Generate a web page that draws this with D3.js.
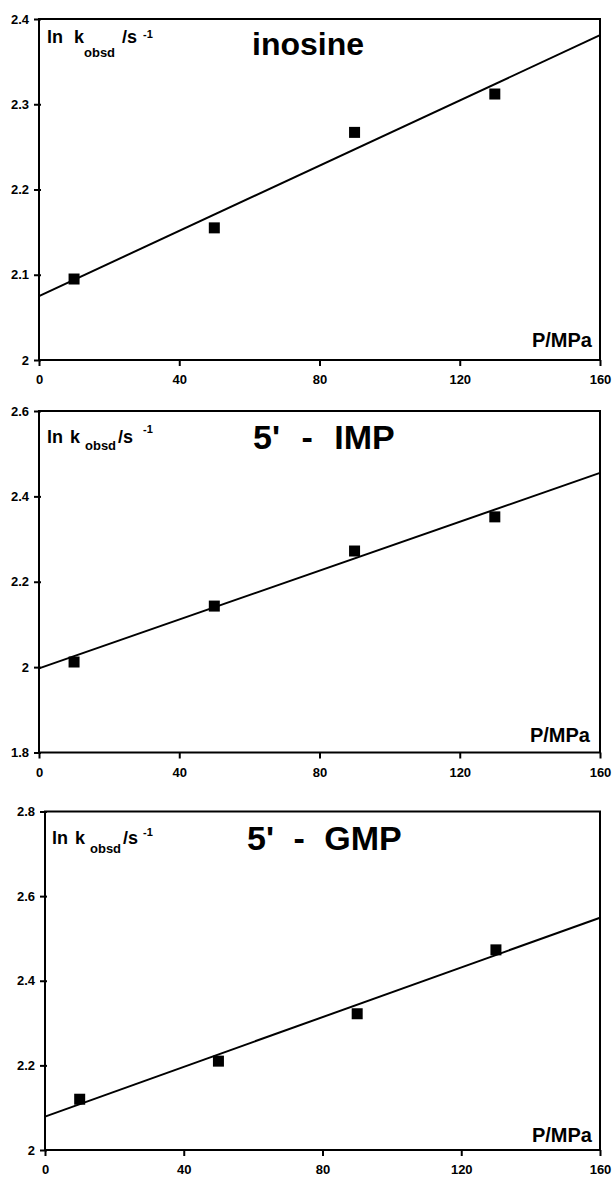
<!DOCTYPE html>
<html>
<head>
<meta charset="utf-8">
<script src="https://cdn.jsdelivr.net/npm/d3@7/dist/d3.min.js"></script>
<style>
  html, body { margin: 0; padding: 0; background: #fff; }
  svg { display: block; }
  text { font-family: "Liberation Sans", Arial, sans-serif; font-weight: bold; fill: #000; }
</style>
</head>
<body>
<svg id="chart" width="613" height="1177"></svg>
<script>
// ---- data ----
const pressure = [10, 50, 90, 130];
const fitX = [0, 160];
const xTicks = [0, 40, 80, 120, 160];

const titles = ["inosine", "5' - IMP", "5' - GMP"];

const inosineValues = [2.095, 2.155, 2.267, 2.312];
const impValues = [2.012, 2.143, 2.272, 2.352];
const gmpValues = [2.12, 2.21, 2.322, 2.473];

const inosineFit = [2.075, 2.381];
const impFit = [1.997, 2.455];
const gmpFit = [2.079, 2.549];

const inosineYTicks = [2, 2.1, 2.2, 2.3, 2.4];
const impYTicks = [1.8, 2, 2.2, 2.4, 2.6];
const gmpYTicks = [2, 2.2, 2.4, 2.6, 2.8];

const xLabel = "P/MPa";

// ---- layout ----
const panels = [
  { title: titles[0], values: inosineValues, fit: inosineFit, yTicks: inosineYTicks,
    left: 39, right: 600, top: 19, bottom: 360,
    titleX: 252, titleY: 55, titleSize: 32, wordSpace: 0,
    lab: { base: 43, sub: 14, sup: -5, xs: [47, 74, 84, 122, 143] },
    xLabX: 592, xLabY: 347 },
  { title: titles[1], values: impValues, fit: impFit, yTicks: impYTicks,
    left: 39, right: 600, top: 411, bottom: 752.5,
    titleX: 253, titleY: 449, titleSize: 34, wordSpace: 12,
    lab: { base: 443, sub: 7, sup: -10, xs: [47, 70, 85, 118, 143] },
    xLabX: 590, xLabY: 742 },
  { title: titles[2], values: gmpValues, fit: gmpFit, yTicks: gmpYTicks,
    left: 45, right: 600, top: 811.5, bottom: 1150,
    titleX: 247, titleY: 850, titleSize: 34, wordSpace: 10,
    lab: { base: 844, sub: 9, sup: -8, xs: [52, 75, 90, 123, 143] },
    xLabX: 592, xLabY: 1142 }
];

const svg = d3.select("#chart");
const fmt = v => String(+v.toFixed(1));

panels.forEach(p => {
  const yDom = d3.extent(p.yTicks);
  const x = d3.scaleLinear().domain([0, 160]).range([p.left, p.right]);
  const y = d3.scaleLinear().domain(yDom).range([p.bottom, p.top]);
  const g = svg.append("g");

  // y axis
  const ya = g.append("g").attr("transform", `translate(${p.left},0)`)
    .call(d3.axisLeft(y).tickValues(p.yTicks).tickFormat(fmt).tickSizeOuter(0).tickSizeInner(5).tickPadding(5));
  ya.select(".domain").remove();
  ya.selectAll(".tick line").attr("x1", 2).attr("x2", -5).attr("stroke", "#000").attr("stroke-width", 2);
  ya.selectAll(".tick text").attr("font-size", 13).attr("font-family", null);

  // x axis
  const xa = g.append("g").attr("transform", `translate(0,${p.bottom})`)
    .call(d3.axisBottom(x).tickValues(xTicks).tickSizeOuter(0).tickSizeInner(6).tickPadding(9));
  xa.select(".domain").remove();
  xa.selectAll(".tick line").attr("stroke", "#000").attr("stroke-width", 2);
  xa.selectAll(".tick text").attr("font-size", 13).attr("font-family", null);

  // frame
  g.append("rect")
    .attr("x", x(0)).attr("y", y(yDom[1]))
    .attr("width", x(160) - x(0)).attr("height", y(yDom[0]) - y(yDom[1]))
    .attr("fill", "none").attr("stroke", "#000").attr("stroke-width", 2);

  // fit line
  const line = d3.line().x(d => x(d[0])).y(d => y(d[1]));
  g.append("path")
    .datum(fitX.map((fx, i) => [fx, p.fit[i]]))
    .attr("d", line).attr("fill", "none").attr("stroke", "#000").attr("stroke-width", 2);

  // points
  const s = 11;
  g.selectAll("rect.pt").data(pressure.map((px, i) => [px, p.values[i]]))
    .enter().append("rect").attr("class", "pt")
    .attr("x", d => x(d[0]) - s / 2).attr("y", d => y(d[1]) - s / 2)
    .attr("width", s).attr("height", s).attr("fill", "#000");

  // title
  g.append("text").attr("x", p.titleX).attr("y", p.titleY)
    .attr("font-size", p.titleSize).attr("word-spacing", p.wordSpace).text(p.title);

  // y label: ln k_obsd /s^-1
  const L = p.lab;
  const t = g.append("text");
  t.append("tspan").attr("x", L.xs[0]).attr("y", L.base).attr("font-size", 18).text("ln");
  t.append("tspan").attr("x", L.xs[1]).attr("y", L.base).attr("font-size", 18).text("k");
  t.append("tspan").attr("x", L.xs[2]).attr("y", L.base + L.sub).attr("font-size", 13).text("obsd");
  t.append("tspan").attr("x", L.xs[3]).attr("y", L.base).attr("font-size", 18).text("/s");
  t.append("tspan").attr("x", L.xs[4]).attr("y", L.base + L.sup).attr("font-size", 11).text("-1");

  // x label
  g.append("text").attr("x", p.xLabX).attr("y", p.xLabY)
    .attr("text-anchor", "end").attr("font-size", 20).text(xLabel);
});
</script>
</body>
</html>
